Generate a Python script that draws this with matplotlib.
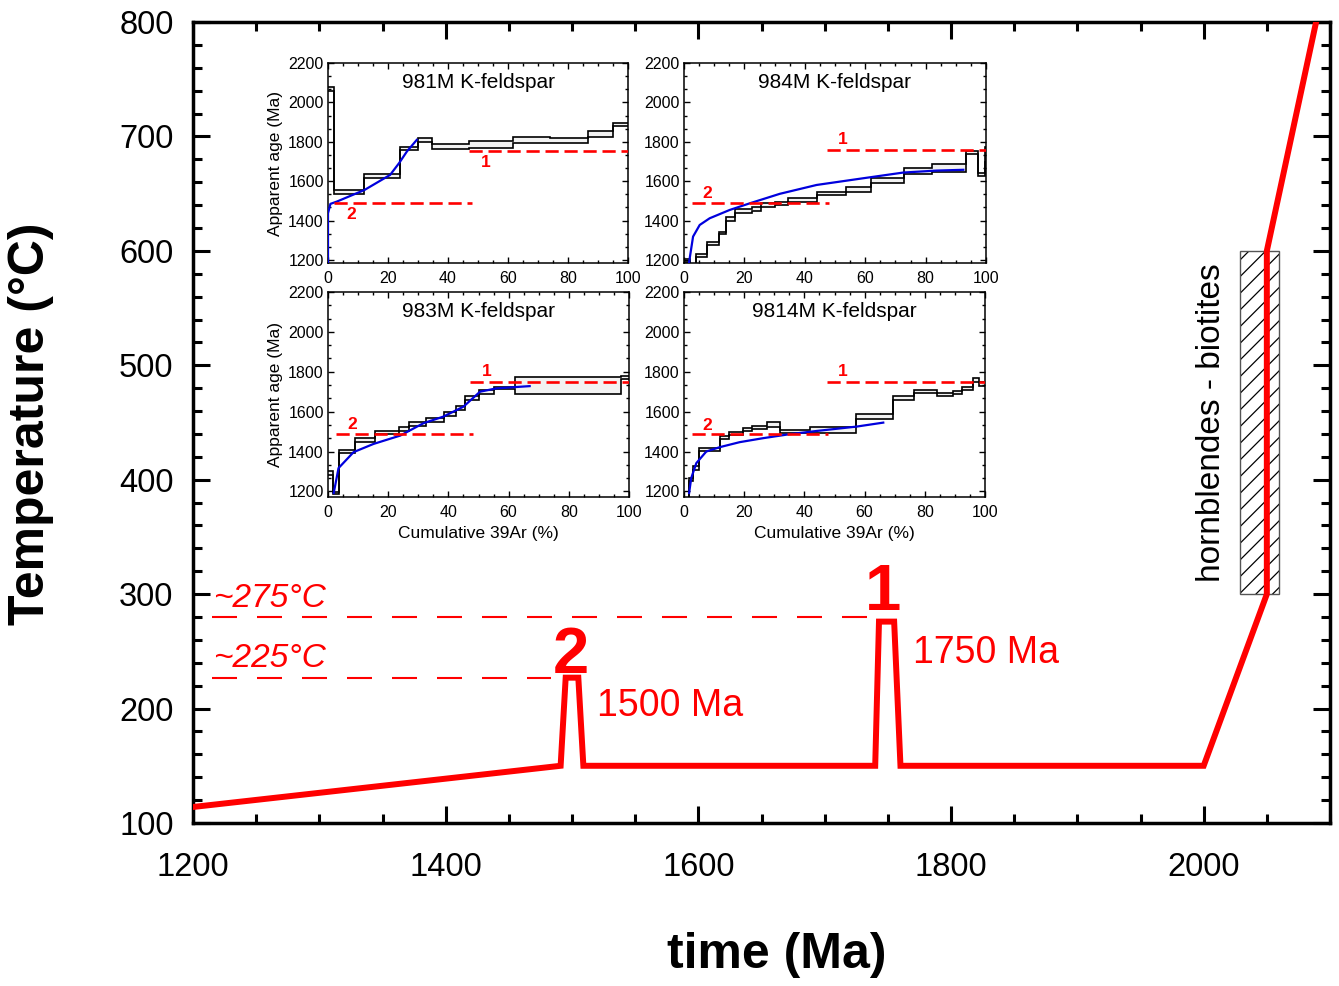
import numpy as np
import matplotlib
matplotlib.use("Agg")
import matplotlib.pyplot as plt
from matplotlib.ticker import MultipleLocator, AutoMinorLocator
from matplotlib.patches import Rectangle

plt.rcParams['font.family'] = ['Liberation Sans', 'DejaVu Sans']
plt.rcParams['hatch.linewidth'] = 0.9

# main thermal history path (time in Ma, temperature in C)
path_time = [1200, 1491, 1495, 1505, 1509, 1740, 1743, 1755, 1760, 2000, 2050, 2050, 2089, 2092]
path_temp = [114, 150, 227, 227, 150, 150, 276, 276, 150, 150, 300, 600, 800, 815]

# closure temperature guide lines
guide_temps = [280, 227]
guide_ends = [1736, 1483]
guide_labels = ['~275°C', '~225°C']

# hornblende - biotite window
hb_time = [2029, 2060]
hb_temp = [300, 600]

# age spectra: step edges (cumulative 39Ar %), lower/upper age (Ma)
s981_edges = [0, 2, 12, 24, 30, 34.5, 47, 61.5, 74, 86.5, 95, 100]
s981_lo = [2060, 1536, 1615, 1756, 1797, 1765, 1768, 1795, 1795, 1824, 1878]
s981_hi = [2080, 1556, 1636, 1776, 1817, 1790, 1805, 1825, 1820, 1853, 1898]
s981_fit_x = [0, 0, 0.8, 3, 12.2, 20.7, 23.7, 26.3, 29.6]
s981_fit_y = [1190, 1437, 1485, 1497, 1556, 1632, 1692, 1751, 1810]

s984_edges = [0, 2, 4.1, 7.6, 11.5, 14, 17, 22.5, 25.5, 30, 34.5, 44, 53.5, 62, 73, 82, 93.5, 97.5, 99.6, 100]
s984_lo = [1190, 1160, 1217, 1276, 1330, 1400, 1441, 1449, 1471, 1480, 1497, 1529, 1547, 1590, 1636, 1649, 1739, 1624, 1700]
s984_hi = [1205, 1175, 1232, 1293, 1344, 1420, 1458, 1468, 1488, 1497, 1517, 1546, 1570, 1615, 1666, 1688, 1752, 1641, 1775]
s984_fit_x = [1.7, 3, 5.2, 8.5, 15.1, 21.8, 31.7, 43.9, 59.3, 72.6, 83.6, 92.5]
s984_fit_y = [1190, 1319, 1378, 1412, 1454, 1488, 1536, 1581, 1615, 1644, 1654, 1658]

s983_edges = [0, 1.7, 3.5, 9, 15.5, 23.5, 27, 32.5, 38.5, 42.5, 45.5, 50, 55, 62, 97.5, 100]
s983_lo = [1283, 1185, 1392, 1450, 1487, 1505, 1530, 1550, 1580, 1608, 1658, 1688, 1712, 1690, 1762]
s983_hi = [1300, 1195, 1408, 1470, 1505, 1525, 1547, 1567, 1600, 1628, 1678, 1708, 1725, 1772, 1780]
s983_fit_x = [1.9, 3.5, 8.5, 15.1, 24, 31.7, 38.3, 45, 50.5, 56, 67]
s983_fit_y = [1192, 1317, 1397, 1438, 1480, 1542, 1575, 1625, 1700, 1717, 1728]

s9814_edges = [0, 1.7, 3, 5, 12, 15, 19.5, 22.5, 27.5, 32, 42, 57, 69.5, 76.5, 84, 89.5, 92.5, 96, 98, 100]
s9814_lo = [1150, 1250, 1308, 1403, 1462, 1483, 1503, 1513, 1522, 1492, 1492, 1563, 1658, 1692, 1678, 1688, 1708, 1750, 1730]
s9814_hi = [1160, 1265, 1325, 1420, 1478, 1497, 1517, 1530, 1547, 1508, 1522, 1588, 1678, 1708, 1692, 1705, 1725, 1767, 1747]
s9814_fit_x = [1.7, 2.4, 4.1, 7.4, 11.9, 18.5, 26.3, 35.1, 44, 57.3, 66.2]
s9814_fit_y = [1192, 1267, 1342, 1400, 1422, 1447, 1467, 1487, 1503, 1525, 1545]

# red reference ages in insets: (age, x0, x1), label position
ref1_lines = [(1755, 47, 100), (1757, 47.4, 100), (1750, 47.2, 100), (1750, 47.4, 100)]
ref2_lines = [(1490, 2, 48), (1488, 2.6, 48), (1487, 2.6, 48.1), (1487, 2.6, 48)]
ref1_text = [(52.5, 1693), (52.7, 1813), (52.7, 1803), (52.9, 1803)]
ref2_text = [(7.6, 1429), (7.7, 1539), (8, 1538), (7.8, 1533)]

samples = [
    ('981M K-feldspar', s981_edges, s981_lo, s981_hi, s981_fit_x, s981_fit_y),
    ('984M K-feldspar', s984_edges, s984_lo, s984_hi, s984_fit_x, s984_fit_y),
    ('983M K-feldspar', s983_edges, s983_lo, s983_hi, s983_fit_x, s983_fit_y),
    ('9814M K-feldspar', s9814_edges, s9814_lo, s9814_hi, s9814_fit_x, s9814_fit_y),
]

RED = '#ff0000'
W, H = 1339, 986
fig = plt.figure(figsize=(W / 100, H / 100), dpi=100)

ax = fig.add_axes([193 / W, 1 - 823 / H, 1137 / W, 801 / H])
ax.set_xlim(1200, 2100)
ax.set_ylim(100, 800)
ax.xaxis.set_major_locator(MultipleLocator(200))
ax.xaxis.set_minor_locator(MultipleLocator(50))
ax.yaxis.set_major_locator(MultipleLocator(100))
ax.yaxis.set_minor_locator(MultipleLocator(20))
ax.tick_params(which='both', direction='in', top=True, right=True, width=2.2, labelsize=23.5)
ax.tick_params(which='major', length=12)
ax.tick_params(which='minor', length=6.5)
ax.tick_params(axis='x', pad=21)
ax.tick_params(axis='y', pad=14)
for sp in ax.spines.values():
    sp.set_linewidth(2.5)

# hatched window
ax.add_patch(Rectangle((hb_time[0], hb_temp[0]), hb_time[1] - hb_time[0], hb_temp[1] - hb_temp[0],
                       facecolor='white', edgecolor='black', hatch='//', linewidth=0, zorder=2))
ax.add_patch(Rectangle((hb_time[0], hb_temp[0]), hb_time[1] - hb_time[0], hb_temp[1] - hb_temp[0],
                       facecolor='none', edgecolor='#555555', linewidth=1.0, zorder=2))
ax.text(2006, 450, 'hornblendes - biotites', rotation=90, fontsize=24, ha='center', va='center')

ax.plot(path_time, path_temp, color=RED, lw=4.3, solid_joinstyle='miter', zorder=3)

for temp, end, lab in zip(guide_temps, guide_ends, guide_labels):
    ax.plot([1215, end], [temp, temp], color=RED, lw=1.5, dashes=(12, 9.6), zorder=3)
    ax.text(1216, temp + 3, lab, color=RED, fontsize=24, style='italic', ha='left', va='bottom')

ax.text(1499, 246, '2', color=RED, fontsize=47, fontweight='bold', ha='center', va='center')
ax.text(1746, 301, '1', color=RED, fontsize=47, fontweight='bold', ha='center', va='center')
ax.text(1520, 202, '1500 Ma', color=RED, fontsize=27, ha='left', va='center')
ax.text(1770, 249, '1750 Ma', color=RED, fontsize=27, ha='left', va='center')

fig.text(777 / W, 1 - 955 / H, 'time (Ma)', fontsize=36, fontweight='bold', ha='center', va='center')
fig.text(31 / W, 1 - 424 / H, 'Temperature (°C)', fontsize=36, fontweight='bold',
         rotation=90, ha='center', va='center')

# inset age spectra
inset_boxes = [
    [328 / W, 1 - 263 / H, 300 / W, 200 / H],
    [684 / W, 1 - 263 / H, 302 / W, 200 / H],
    [328 / W, 1 - 497 / H, 301 / W, 205 / H],
    [684 / W, 1 - 497 / H, 301 / W, 205 / H],
]
inset_ymin = [1185, 1185, 1172, 1172]

for i, (title, edges, lo, hi, fx, fy) in enumerate(samples):
    ia = fig.add_axes(inset_boxes[i])
    ia.set_xlim(0, 100)
    ia.set_ylim(inset_ymin[i], 2200)
    ia.xaxis.set_major_locator(MultipleLocator(20))
    ia.xaxis.set_minor_locator(MultipleLocator(5))
    ia.yaxis.set_major_locator(MultipleLocator(200))
    ia.yaxis.set_minor_locator(AutoMinorLocator(3))
    ia.tick_params(which='both', direction='in', top=True, right=True, width=1.0,
                   labelsize=11.5, pad=3)
    ia.tick_params(which='major', length=4)
    ia.tick_params(which='minor', length=2.2)
    ia.tick_params(axis='x', pad=6)
    for sp in ia.spines.values():
        sp.set_linewidth(1.1)

    ia.stairs(hi, edges, baseline=lo, fill=True, color='#f2f2f2', zorder=1)
    ia.stairs(hi, edges, baseline=None, color='black', lw=1.2, zorder=2)
    ia.stairs(lo, edges, baseline=None, color='black', lw=1.2, zorder=2)
    ia.plot(fx, fy, color='#0000dd', lw=1.6, zorder=3)

    for (age, x0, x1) in (ref1_lines[i], ref2_lines[i]):
        ia.plot([x0, x1], [age, age], color=RED, lw=1.9, dashes=(5, 2.2), zorder=4)
    ia.text(*ref1_text[i], '1', color=RED, fontsize=12.5, fontweight='bold', ha='center', va='center')
    ia.text(*ref2_text[i], '2', color=RED, fontsize=12.5, fontweight='bold', ha='center', va='center')

    ia.text(0.5, 0.905, title, transform=ia.transAxes, fontsize=15, ha='center', va='center')
    if i % 2 == 0:
        ia.set_ylabel('Apparent age (Ma)', fontsize=12.5, labelpad=4)
    if i >= 2:
        ia.set_xlabel('Cumulative 39Ar (%)', fontsize=12.5, labelpad=4)

fig.savefig('out.png', dpi=100)
